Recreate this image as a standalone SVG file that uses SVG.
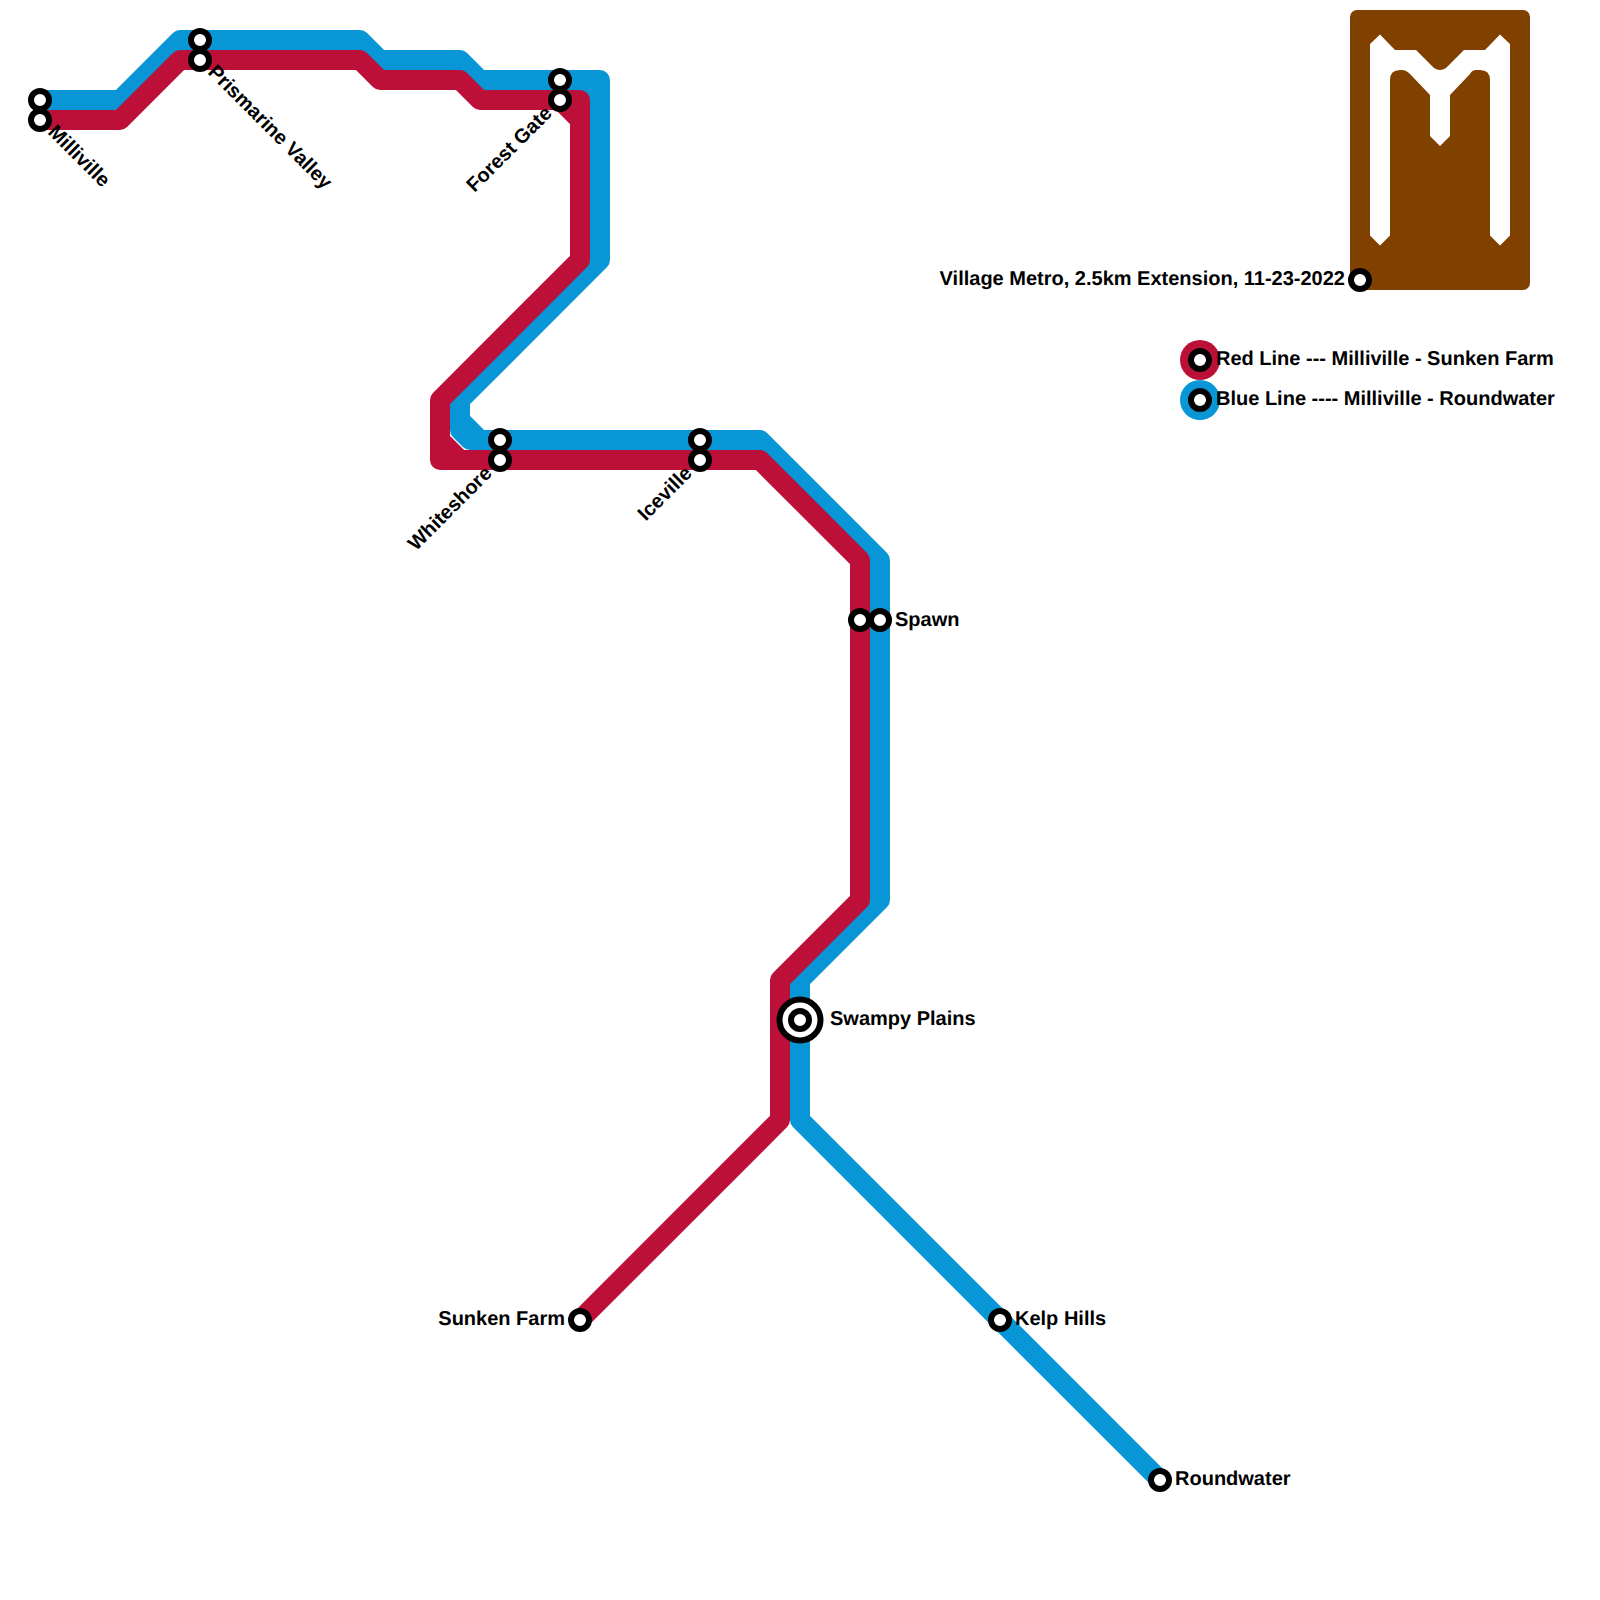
<svg xmlns="http://www.w3.org/2000/svg" width="1600" height="1600" viewBox="0 0 1600 1600">
<style>
text{font-family:"Liberation Sans",Arial,sans-serif;font-weight:700;font-size:20px;fill:#000;text-rendering:geometricPrecision}
.e{text-anchor:end}
.l{fill:none;stroke-width:20;stroke-linejoin:round;stroke-linecap:butt}
.b{stroke:#0896d7}.r{stroke:#bd1038}
.s{fill:#fff;stroke:#000;stroke-width:6}
</style>
<defs><circle id="st" r="9" class="s"/></defs>
<rect width="1600" height="1600" fill="#fff"/>
<g id="logo">
<rect x="1350" y="10" width="180" height="280" rx="7" fill="#804000"/>
<path fill="#fff" d="M1380 34.5L1395 50H1416L1434 68Q1440 72 1446 68L1464 50H1485L1500 34.5L1510 44V235.5L1500 245.5L1490 235.5V80Q1490 70 1480 70H1476Q1472 70 1470 74L1450 95V136L1440 146L1430 136V95L1410 74Q1406 70 1402 70H1400Q1390 70 1390 80V235.5L1380 245.5L1370 235.5V44Z"/>
</g>
<g id="connectors">
<path class="l b" d="M40 100H120L180 40H360L380 60H460L480 80H600V260L460 400V430L470 440H760L880 560V900L800 980V1120L1160 1480"/>
<path class="l b" d="M460 420L480 440M575 90H595"/>
<path class="l r" d="M40 120H120L180 60H360L380 80H460L480 100H560L580 120V260L440 400V460H760L860 560V900L780 980V1120L580 1320"/>
<path class="l r" d="M560 100H580V130M440 440L460 460"/>
</g>
<g id="node-milliville"><use href="#st" x="40" y="100"/><use href="#st" x="40" y="120"/><text transform="translate(47 133) rotate(45)">Milliville</text></g>
<g id="node-prismarine-valley"><use href="#st" x="200" y="40"/><use href="#st" x="200" y="60"/><text transform="translate(207 73) rotate(45)">Prismarine Valley</text></g>
<g id="node-forest-gate"><use href="#st" x="560" y="80"/><use href="#st" x="560" y="100"/><text class="e" transform="translate(553 114.5) rotate(-45)">Forest Gate</text></g>
<g id="node-whiteshore"><use href="#st" x="500" y="440"/><use href="#st" x="500" y="460"/><text class="e" transform="translate(493 474.5) rotate(-45)">Whiteshore</text></g>
<g id="node-iceville"><use href="#st" x="700" y="440"/><use href="#st" x="700" y="460"/><text class="e" transform="translate(693 474.5) rotate(-45)">Iceville</text></g>
<g id="node-spawn"><use href="#st" x="860" y="620"/><use href="#st" x="880" y="620"/><text x="895" y="626">Spawn</text></g>
<g id="node-swampy-plains"><circle cx="800" cy="1020" r="20.5" class="s"/><circle cx="800" cy="1020" r="9" class="s"/><text x="830" y="1025">Swampy Plains</text></g>
<g id="node-sunken-farm"><use href="#st" x="580" y="1320"/><text class="e" x="565" y="1325">Sunken Farm</text></g>
<g id="node-kelp-hills"><use href="#st" x="1000" y="1320"/><text x="1015" y="1325">Kelp Hills</text></g>
<g id="node-roundwater"><use href="#st" x="1160" y="1480"/><text x="1175" y="1485">Roundwater</text></g>
<g id="node-village-metro"><use href="#st" x="1360" y="280"/><text class="e" x="1345" y="285">Village Metro, 2.5km Extension, 11-23-2022</text></g>
<g id="legend-red"><circle cx="1200" cy="360" r="20" fill="#bd1038"/><use href="#st" x="1200" y="360"/><text x="1216" y="365">Red Line --- Milliville - Sunken Farm</text></g>
<g id="legend-blue"><circle cx="1200" cy="400" r="20" fill="#0896d7"/><use href="#st" x="1200" y="400"/><text x="1216" y="405">Blue Line ---- Milliville - Roundwater</text></g>
</svg>
